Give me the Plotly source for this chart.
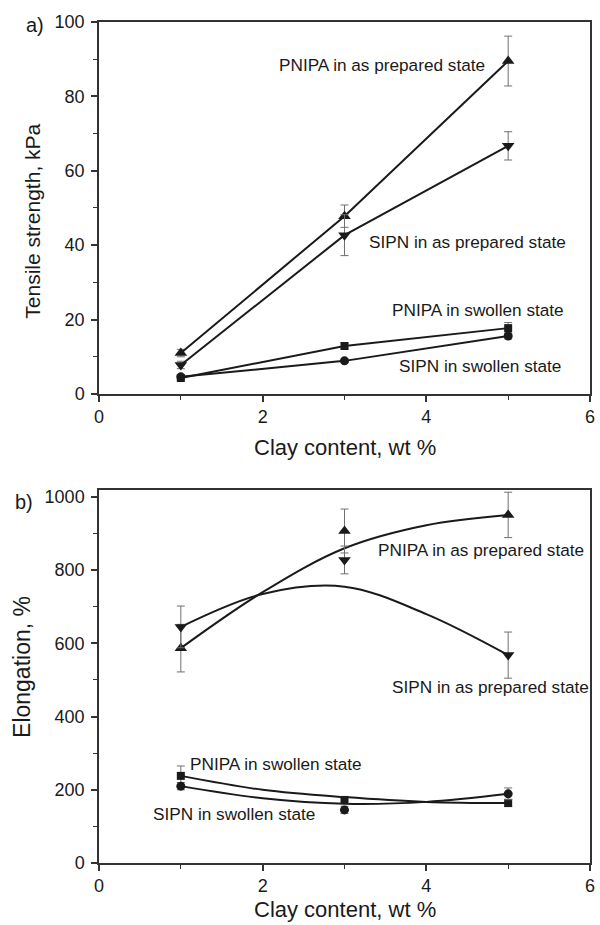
import plotly.graph_objects as go
from plotly.subplots import make_subplots

# ---------------- data ----------------
clay = [1, 3, 5]

# a) Tensile strength, kPa
ts_pnipa_prep = [11.0, 47.8, 89.5]
ts_pnipa_prep_err = [1.0, 3.0, 6.7]
ts_sipn_prep = [7.8, 42.7, 66.7]
ts_sipn_prep_err = [1.0, 5.5, 3.8]
ts_pnipa_sw = [4.3, 12.9, 17.7]
ts_pnipa_sw_err = [0.5, 0.8, 1.5]
ts_sipn_sw = [4.6, 8.9, 15.6]
ts_sipn_sw_err = [0.5, 0.5, 0.8]

# b) Elongation, %
el_pnipa_prep = [587, 907, 951]
el_pnipa_prep_err = [65, 60, 62]
el_sipn_prep = [645, 828, 568]
el_sipn_prep_err = [57, 38, 63]
el_pnipa_sw = [238, 172, 164]
el_pnipa_sw_err = [27, 10, 10]
el_sipn_sw = [210, 145, 189]
el_sipn_sw_err = [10, 10, 16]

# fitted curves in b)
fit_x = [1, 2, 3, 4, 5]
fit_pnipa_prep = [587, 740, 860, 923, 951]
fit_sipn_prep = [645, 735, 755, 680, 568]
fit_pnipa_sw = [238, 200, 180, 167, 164]
fit_sipn_sw = [210, 177, 162, 167, 189]

x_ticks = [0, 2, 4, 6]

# ---------------- figure ----------------
FONT = "Liberation Sans, Arial, sans-serif"
INK = "#1a1a1a"
ERR = "#707070"

fig = make_subplots(rows=2, cols=1)


def err(v):
    return dict(type="data", array=v, visible=True, color=ERR, thickness=1, width=4)


def add_points(y, e, symbol, size, row, mode):
    fig.add_trace(go.Scatter(
        x=clay, y=y, mode=mode, error_y=err(e),
        marker=dict(symbol=symbol, size=size, color=INK),
        line=dict(color=INK, width=2), showlegend=False), row=row, col=1)


add_points(ts_pnipa_prep, ts_pnipa_prep_err, "triangle-up", 11, 1, "lines+markers")
add_points(ts_sipn_prep, ts_sipn_prep_err, "triangle-down", 11, 1, "lines+markers")
add_points(ts_pnipa_sw, ts_pnipa_sw_err, "square", 8, 1, "lines+markers")
add_points(ts_sipn_sw, ts_sipn_sw_err, "circle", 9, 1, "lines+markers")

for fy in [fit_pnipa_prep, fit_sipn_prep, fit_pnipa_sw, fit_sipn_sw]:
    fig.add_trace(go.Scatter(x=fit_x, y=fy, mode="lines", line=dict(color=INK, width=2, shape="spline", smoothing=1.0),
                             showlegend=False, hoverinfo="skip"), row=2, col=1)

add_points(el_pnipa_prep, el_pnipa_prep_err, "triangle-up", 11, 2, "markers")
add_points(el_sipn_prep, el_sipn_prep_err, "triangle-down", 11, 2, "markers")
add_points(el_pnipa_sw, el_pnipa_sw_err, "square", 8, 2, "markers")
add_points(el_sipn_sw, el_sipn_sw_err, "circle", 9, 2, "markers")

axis_common = dict(showline=True, linecolor="#333333", linewidth=1.5, mirror=True,
                   ticks="outside", ticklen=6, tickwidth=1.5, tickcolor="#333333",
                   showgrid=False, zeroline=False,
                   tickfont=dict(family=FONT, size=18, color=INK))

fig.update_xaxes(**axis_common, range=[0, 6], tickvals=x_ticks,
                 minor=dict(dtick=1, ticklen=4, tickwidth=1.2, tickcolor="#333333", ticks="outside", showgrid=False))
fig.update_yaxes(**axis_common, ticklabelstandoff=3)
fig.update_yaxes(range=[0, 100], dtick=20,
                 minor=dict(dtick=10, ticklen=4, tickwidth=1.2, tickcolor="#333333", ticks="outside", showgrid=False),
                 row=1, col=1)
fig.update_yaxes(range=[0, 1019], tickvals=[0, 200, 400, 600, 800, 1000],
                 minor=dict(dtick=100, ticklen=4, tickwidth=1.2, tickcolor="#333333", ticks="outside", showgrid=False),
                 row=2, col=1)

fig.update_layout(
    xaxis=dict(domain=[0, 1], anchor="y"),
    yaxis=dict(domain=[0.5577, 1.0]),
    xaxis2=dict(domain=[0, 1], anchor="y2"),
    yaxis2=dict(domain=[0.0, 0.4435]),
)

ann = []


def label(text, x, y, xref, yref, size=17.2, xanchor="left", yanchor="middle"):
    ann.append(dict(text=text, x=x, y=y, xref=xref, yref=yref, showarrow=False,
                    xanchor=xanchor, yanchor=yanchor, font=dict(family=FONT, size=size, color=INK)))


# curve labels a)
label("PNIPA in as prepared state", 2.17, 88.4, "x", "y")
label("SIPN in as prepared state", 3.28, 40.8, "x", "y")
label("PNIPA in swollen state", 3.55, 22.6, "x", "y")
label("SIPN in swollen state", 3.64, 7.5, "x", "y")
# curve labels b)
label("PNIPA in as prepared state", 3.39, 855, "x2", "y2")
label("SIPN in as prepared state", 3.55, 481, "x2", "y2")
label("PNIPA in swollen state", 1.09, 270, "x2", "y2")
label("SIPN in swollen state", 0.63, 134, "x2", "y2")

# panel letters
label("a)", -0.131, 0.9964, "paper", "paper", size=20, xanchor="center")
label("b)", -0.153, 0.429, "paper", "paper", size=20, xanchor="center")

# axis titles
label("Clay content, wt %", 0.501, 0.4935, "paper", "paper", size=22, xanchor="center")
label("Clay content, wt %", 0.501, -0.0725, "paper", "paper", size=22, xanchor="center", yanchor="bottom")
ann.append(dict(text="Tensile strength, kPa", x=-0.135, y=0.7634, xref="paper", yref="paper",
                showarrow=False, textangle=-90, xanchor="center", yanchor="middle",
                font=dict(family=FONT, size=21, color=INK)))
ann.append(dict(text="Elongation, %", x=-0.157, y=0.233, xref="paper", yref="paper",
                showarrow=False, textangle=-90, xanchor="center", yanchor="middle",
                font=dict(family=FONT, size=23, color=INK)))

fig.update_layout(
    annotations=ann,
    width=600, height=925,
    margin=dict(l=99, r=5, t=22, b=62),
    paper_bgcolor="white", plot_bgcolor="white",
    showlegend=False,
)

fig.write_html("out.html")
